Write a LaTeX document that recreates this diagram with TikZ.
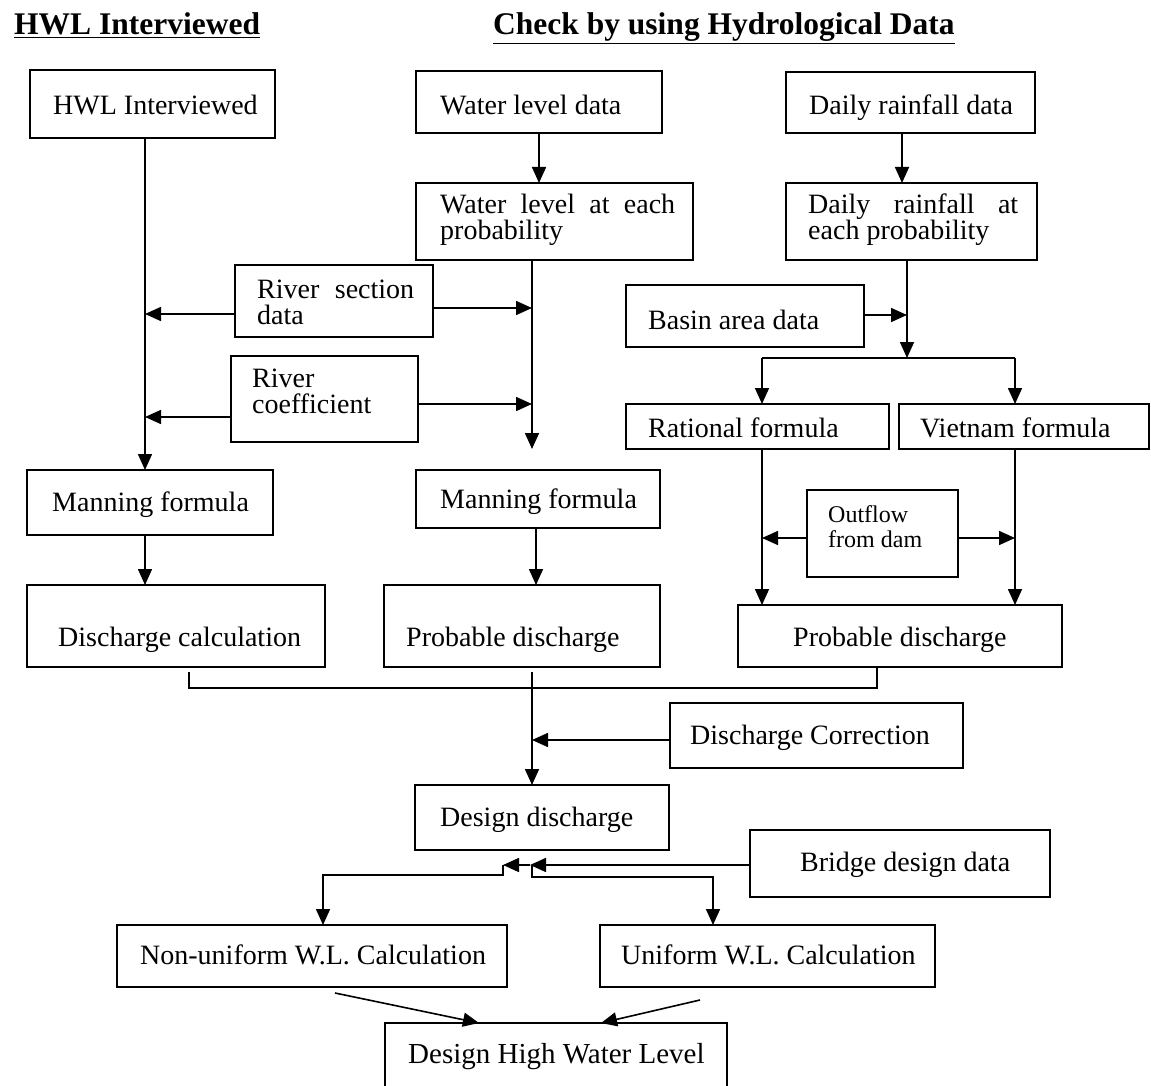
\documentclass[tikz,border=0pt]{standalone}
\usepackage{fontspec}
\setmainfont{Liberation Serif}
\usetikzlibrary{arrows.meta,calc}
\hyphenpenalty=10000
\exhyphenpenalty=10000
\newcommand\bxat[5]{\node[bx, minimum width={#4-#2}, minimum height={#5-#3}] (#1) at ({(#2+#4)/2},{(#3+#5)/2}) {};}
\begin{document}
\begin{tikzpicture}[x=1pt,y=-1pt,
  bx/.style={draw, line width=1.3pt, inner sep=0, outer sep=0},
  txt/.style={inner sep=0, anchor=west, align=left, font=\fontsize{28}{26}\selectfont},
  btxt/.style={txt, anchor=base west},
  jtxt/.style={txt, align=justify},
  ttl/.style={inner sep=0, anchor=base west, font=\bfseries\fontsize{31.5}{34}\selectfont},
  arr/.style={line width=1.6pt, -{Triangle[length=16pt,width=14pt]}},
  ln/.style={line width=1.6pt}]
\useasboundingbox[fill=white] (0,0) rectangle (1151,1086);
% titles
\node[ttl] (t1) at (14,35) {\underline{HWL Interviewed}};
\node[ttl] (t2) at (493,35) {\underline{Check by using Hydrological Data}};
% boxes
\bxat{hwl}{30}{70}{275}{138}
\bxat{wld}{416}{71}{662}{133}
\bxat{drd}{786}{72}{1035}{133}
\bxat{wlp}{416}{183}{693}{260}
\bxat{drp}{786}{183}{1037}{260}
\bxat{rsd}{235}{265}{433}{337}
\bxat{rco}{231}{356}{418}{442}
\bxat{bad}{626}{285}{864}{347}
\bxat{rat}{626}{404}{889}{449}
\bxat{vie}{899}{404}{1149}{449}
\bxat{mna}{27}{470}{273}{535}
\bxat{mnb}{416}{470}{660}{528}
\bxat{out}{807}{490}{958}{577}
\bxat{dis}{27}{585}{325}{667}
\bxat{pra}{384}{585}{660}{667}
\bxat{prb}{738}{605}{1062}{667}
\bxat{cor}{670}{703}{963}{768}
\bxat{des}{415}{785}{669}{850}
\bxat{bri}{750}{830}{1050}{897}
\bxat{nun}{117}{925}{507}{987}
\bxat{uni}{600}{925}{935}{987}
\bxat{dhw}{385}{1023}{727}{1095}
% texts
\node[btxt] (hwl-t) at (53,115) {HWL Interviewed};
\node[btxt] (wld-t) at (440,115) {Water level data};
\node[btxt] (drd-t) at (809,115) {Daily rainfall data};
\node[jtxt, text width=235] (wlp-t) at (440,220) {Water level at each probability};
\node[jtxt, text width=210] (drp-t) at (808,220) {Daily rainfall at each probability};
\node[jtxt, text width=157] (rsd-t) at (257,302) {River section data};
\node[txt] (rco-t) at (252,391) {River\\coefficient};
\node[txt] (bad-t) at (648,320) {Basin area data};
\node[txt] (rat-t) at (648,428) {Rational formula};
\node[txt] (vie-t) at (920,428) {Vietnam formula};
\node[txt] (mna-t) at (52,505) {Manning formula};
\node[txt] (mnb-t) at (440,502) {Manning formula};
\node[txt, font=\fontsize{24}{25}\selectfont] (out-t) at (828,527) {Outflow\\from dam};
\node[txt] (dis-t) at (58,640) {Discharge calculation};
\node[txt] (pra-t) at (406,640) {Probable discharge};
\node[txt] (prb-t) at (793,640) {Probable discharge};
\node[txt] (cor-t) at (690,738) {Discharge Correction};
\node[txt] (des-t) at (440,820) {Design discharge};
\node[txt] (bri-t) at (800,865) {Bridge design data};
\node[txt] (nun-t) at (140,955) {Non-uniform W.L. Calculation};
\node[txt] (uni-t) at (621,955) {Uniform W.L. Calculation};
\node[txt, font=\fontsize{29}{25}\selectfont] (dhw-t) at (408,1057) {Design High Water Level};
% helper coordinates
\coordinate (cL) at (145,0);
\coordinate (cM) at (532,0);
\coordinate (cM2) at (536,0);
\coordinate (cD) at (902,0);
\coordinate (cR) at (907,0);
\coordinate (cRa) at (762,0);
\coordinate (cRb) at (1015,0);
\coordinate (cX1) at (189,0);
\coordinate (cX2) at (877,0);
\coordinate (cB1) at (530,0);
\coordinate (cB0) at (503,0);
\coordinate (cN) at (323,0);
\coordinate (cU) at (713,0);
\coordinate (yA) at (0,314);
\coordinate (yB) at (0,308);
\coordinate (yC) at (0,417);
\coordinate (yD) at (0,404);
\coordinate (yE) at (0,449);
\coordinate (yJ) at (0,358);
\coordinate (yK) at (0,315);
\coordinate (yO) at (0,538);
\coordinate (yS) at (0,672);
\coordinate (yT) at (0,688);
\coordinate (yU) at (0,740);
\coordinate (yV) at (0,865);
\coordinate (yW) at (0,875);
\coordinate (yX) at (0,877);
\coordinate (p1) at (335,993);
\coordinate (p2) at (479,0);
\coordinate (p3) at (700,1000);
\coordinate (p4) at (601,0);
% connectors
\draw[arr] (wld.south) -- (wld.south |- wlp.north);
\draw[arr] (drd.south -| cD) -- (drp.north -| cD);
\draw[arr] (hwl.south -| cL) -- (mna.north -| cL);
\draw[arr] (rsd.west |- yA) -- (cL |- yA);
\draw[arr] (rsd.east |- yB) -- (cM |- yB);
\draw[arr] (rco.west |- yC) -- (cL |- yC);
\draw[arr] (rco.east |- yD) -- (cM |- yD);
\draw[arr] (wlp.south -| cM) -- (cM |- yE);
\draw[arr] (mna.south -| cL) -- (dis.north -| cL);
\draw[arr] (mnb.south -| cM2) -- (pra.north -| cM2);
\draw[arr] (drp.south -| cR) -- (cR |- yJ);
\draw[ln] (cRa |- yJ) -- (cRb |- yJ);
\draw[arr] (cRa |- yJ) -- (rat.north -| cRa);
\draw[arr] (cRb |- yJ) -- (vie.north -| cRb);
\draw[arr] (bad.east |- yK) -- (cR |- yK);
\draw[arr] (rat.south -| cRa) -- (prb.north -| cRa);
\draw[arr] (vie.south -| cRb) -- (prb.north -| cRb);
\draw[arr] (out.west |- yO) -- (cRa |- yO);
\draw[arr] (out.east |- yO) -- (cRb |- yO);
\draw[ln] (cX1 |- yS) -- (cX1 |- yT) -- (cX2 |- yT) -- (prb.south -| cX2);
\draw[arr] (cM |- yS) -- (des.north -| cM);
\draw[arr] (cor.west |- yU) -- (cM |- yU);
\draw[arr] (bri.west |- yV) -- (cB1 |- yV);
\draw[arr] (cB1 |- yV) -- (cB0 |- yV);
\draw[arr] (cB0 |- yV) -- (cB0 |- yW) -- (cN |- yW) -- (nun.north -| cN);
\draw[arr] (cM |- yV) -- (cM |- yX) -- (cU |- yX) -- (uni.north -| cU);
\draw[arr] (p1) -- (dhw.north -| p2);
\draw[arr] (p3) -- (dhw.north -| p4);
\end{tikzpicture}
\end{document}
